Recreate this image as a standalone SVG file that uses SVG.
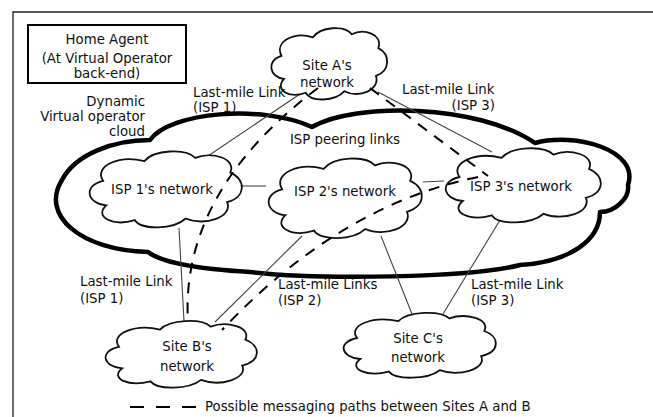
<svg xmlns="http://www.w3.org/2000/svg" xmlns:xlink="http://www.w3.org/1999/xlink" width="653" height="417" viewBox="0 0 653 417">
  <style>
    .t { font-family: "DejaVu Sans", Verdana, sans-serif; font-size: 13.3px; fill: #111; }
    .m { text-anchor: middle; }
    .e { text-anchor: end; }
    .cl { fill: #fff; stroke: #111; stroke-width: 1.8; vector-effect: non-scaling-stroke; }
    .big { fill: #fff; stroke: #000; stroke-width: 4.5; stroke-linejoin: round; }
    .lnk { stroke: #444; stroke-width: 1.1; fill: none; }
    .dash { stroke: #000; stroke-width: 2; fill: none; stroke-dasharray: 11 9; }
  </style>
  <defs>
    <!-- unit cloud outline, 100 x 100 box -->
    <path id="cloud" class="cl" d="M14,70 C2,68 -1,46 12,40 C6,22 22,8 38,16 C44,2 64,0 70,12 C80,4 96,12 92,30 C102,38 102,60 90,66 C94,84 76,96 64,86 C56,100 36,100 32,88 C18,96 6,84 14,70 Z"/>
  </defs>

  <rect x="0" y="0" width="653" height="417" fill="#fff"/>
  <!-- page frame -->
  <path d="M13,417 V12 H653" fill="none" stroke="#222" stroke-width="1.3"/>

  <g id="home-agent">
    <rect x="28" y="25" width="158" height="58" fill="#fff" stroke="#000" stroke-width="2"/>
    <text class="t m" x="107" y="44">Home Agent</text>
    <text class="t m" x="107" y="63">(At Virtual Operator</text>
    <text class="t m" x="107" y="78">back-end)</text>
  </g>

  <g id="virtual-operator-cloud">
    <path class="big" d="M150,140 C170,112 262,104 312,127 C355,102 478,104 535,143 C575,132 640,150 628,185 C630,198 615,212 600,212 C600,240 570,262 520,265 C470,278 320,280 250,272 C215,270 165,265 148,252 C80,250 40,215 62,180 C75,155 112,140 150,140 Z"/>
    <text class="t e" x="145" y="106">Dynamic</text>
    <text class="t e" x="145" y="121">Virtual operator</text>
    <text class="t e" x="145" y="136">cloud</text>
    <text class="t m" x="345" y="144">ISP peering links</text>
  </g>

  <g id="connectors">
    <line class="lnk" x1="303" y1="92" x2="205" y2="158"/>
    <line class="lnk" x1="378" y1="92" x2="492" y2="152"/>
    <line class="lnk" x1="241" y1="186" x2="266" y2="186"/>
    <line class="lnk" x1="423" y1="182" x2="444" y2="181"/>
    <line class="lnk" x1="179" y1="228" x2="184" y2="321"/>
    <line class="lnk" x1="302" y1="236" x2="215" y2="322"/>
    <line class="lnk" x1="381" y1="236" x2="412" y2="314"/>
    <line class="lnk" x1="500" y1="220" x2="443" y2="314"/>
  </g>

  <g id="site-a">
    <use xlink:href="#cloud" transform="translate(267,25) scale(1.21,0.77)"/>
    <text class="t m" x="327" y="70">Site A's</text>
    <text class="t m" x="327" y="87">network</text>
  </g>
  <g id="isp1">
    <use xlink:href="#cloud" transform="translate(84,148) scale(1.59,0.82)"/>
    <text class="t m" x="162" y="194">ISP 1's network</text>
  </g>
  <g id="isp2">
    <use xlink:href="#cloud" transform="translate(263,155) scale(1.6,0.86)"/>
    <text class="t m" x="345" y="196">ISP 2's network</text>
  </g>
  <g id="isp3">
    <use xlink:href="#cloud" transform="translate(440,145) scale(1.62,0.8)"/>
    <text class="t m" x="521" y="191">ISP 3's network</text>
  </g>
  <g id="site-b">
    <use xlink:href="#cloud" transform="translate(100,318) scale(1.58,0.72)"/>
    <text class="t m" x="187" y="351">Site B's</text>
    <text class="t m" x="187" y="371">network</text>
  </g>
  <g id="site-c">
    <use xlink:href="#cloud" transform="translate(338,310) scale(1.59,0.70)"/>
    <text class="t m" x="418" y="343">Site C's</text>
    <text class="t m" x="418" y="362">network</text>
  </g>

  <g id="paths-a-b">
    <path class="dash" d="M318,88 Q180,192 188,322"/>
    <path class="dash" d="M370,88 L488,176"/>
    <path class="dash" d="M478,177 Q340,205 222,330"/>
  </g>

  <g id="link-labels">
    <text class="t" x="193" y="97">Last-mile Link</text>
    <text class="t" x="193" y="112">(ISP 1)</text>
    <text class="t" x="402" y="94">Last-mile Link</text>
    <text class="t e" x="495" y="110">(ISP 3)</text>
    <text class="t" x="80" y="286">Last-mile Link</text>
    <text class="t" x="80" y="303">(ISP 1)</text>
    <text class="t" x="278" y="289">Last-mile Links</text>
    <text class="t" x="278" y="305">(ISP 2)</text>
    <text class="t" x="471" y="289">Last-mile Link</text>
    <text class="t" x="471" y="305">(ISP 3)</text>
  </g>

  <g id="legend">
    <line x1="130" y1="407" x2="197" y2="407" stroke="#000" stroke-width="2" stroke-dasharray="14 12"/>
    <text class="t" x="205" y="411">Possible messaging paths between Sites A and B</text>
  </g>
</svg>
